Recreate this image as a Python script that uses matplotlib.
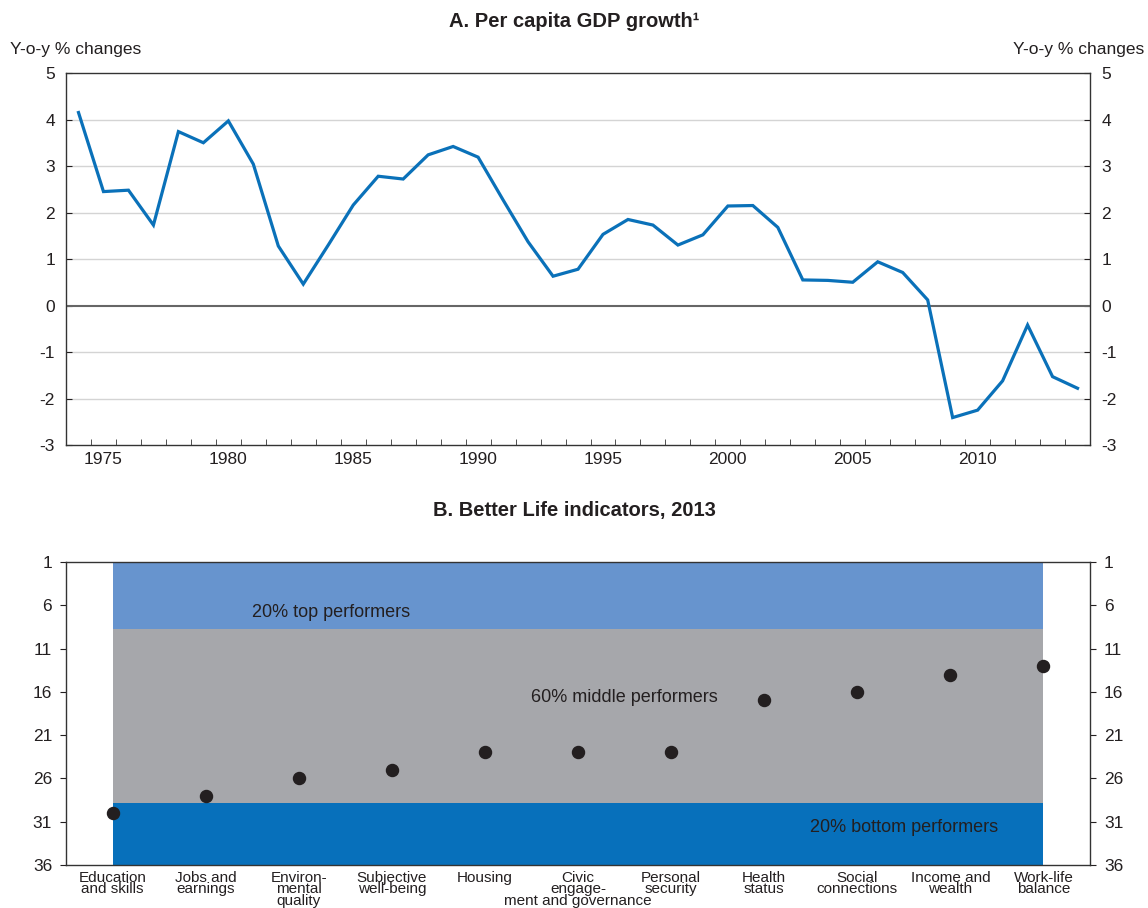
import numpy as np
import matplotlib
matplotlib.use('Agg')
import matplotlib.pyplot as plt
from matplotlib.ticker import FixedLocator

plt.rcParams['font.family'] = ['Liberation Sans', 'DejaVu Sans']
plt.rcParams['axes.unicode_minus'] = False

# Panel A data
years = list(range(1974, 2015))
gdp_growth = [4.15, 2.45, 2.48, 1.73, 3.74, 3.50, 3.97, 3.04, 1.28, 0.46,
              1.30, 2.16, 2.78, 2.72, 3.24, 3.42, 3.19, 2.27, 1.37, 0.63,
              0.78, 1.53, 1.85, 1.73, 1.30, 1.52, 2.14, 2.15, 1.68, 0.55,
              0.54, 0.50, 0.94, 0.71, 0.12, -2.41, -2.25, -1.62, -0.42, -1.53,
              -1.78]

# Panel B data
categories = ['Education\nand skills', 'Jobs and\nearnings', 'Environ-\nmental\nquality',
              'Subjective\nwell-being', 'Housing', 'Civic\nengage-\nment and governance',
              'Personal\nsecurity', 'Health\nstatus', 'Social\nconnections',
              'Income and\nwealth', 'Work-life\nbalance']
ranks = [30, 28, 26, 25, 23, 23, 23, 17, 16, 14, 13]
band_edges = [1, 8.8, 28.8, 36]
band_labels = ['20% top performers', '60% middle performers', '20% bottom performers']

line_blue = '#0a71b9'
band_colors = ['#6794ce', '#a6a7ab', '#0770bb']
txt = '#231f20'

fig = plt.figure(figsize=(11.48, 9.08), dpi=100)

# ---- Panel A ----
ax1 = fig.add_axes([0.0575, 0.5099, 0.892, 0.4097])
ax1.plot(years, gdp_growth, color=line_blue, lw=2.3, solid_joinstyle='miter', zorder=3)
ax1.set_xlim(1973.5, 2014.5)
ax1.set_ylim(-3, 5)
for v in range(-2, 5):
    if v != 0:
        ax1.axhline(v, color='#d4d4d4', lw=1, zorder=1)
ax1.axhline(0, color='#666666', lw=1.5, zorder=2)
ax1.set_yticks(range(-3, 6))
ax1.tick_params(axis='y', which='both', left=True, right=True, labelleft=True,
                labelright=True, direction='in', length=4, labelsize=12.5, colors=txt, pad=8)
ax1.set_xticks(range(1975, 2015, 5))
ax1.xaxis.set_minor_locator(FixedLocator(np.arange(1974.5, 2014.5, 1)))
ax1.tick_params(axis='x', which='major', length=0, labelsize=12.5, colors=txt, pad=5)
ax1.tick_params(axis='x', which='minor', direction='in', length=4, color='#333333')
for s in ax1.spines.values():
    s.set_color('#333333')
    s.set_linewidth(1)
fig.text(0.5, 0.976, 'A. Per capita GDP growth\u00b9', ha='center', va='center',
         fontsize=14.5, fontweight='bold', color=txt)
fig.text(0.009, 0.945, 'Y-o-y % changes', ha='left', va='center', fontsize=12.5, color=txt)
fig.text(0.997, 0.945, 'Y-o-y % changes', ha='right', va='center', fontsize=12.5, color=txt)

# ---- Panel B ----
ax2 = fig.add_axes([0.0575, 0.0474, 0.892, 0.3337])
x = np.arange(len(categories))
for i, c in enumerate(band_colors):
    ax2.fill_between([x[0], x[-1]], band_edges[i], band_edges[i + 1], color=c,
                     lw=0, zorder=1)
ax2.scatter(x, ranks, s=75, color=txt, zorder=3)
ax2.set_xlim(-0.5, len(categories) - 0.5)
ax2.set_ylim(36, 1)
ax2.set_yticks(range(1, 37, 5))
ax2.tick_params(axis='y', which='both', left=True, right=True, labelleft=True,
                labelright=True, length=4, labelsize=12.5, colors=txt, pad=6)
ax2.tick_params(axis='y', which='both', direction='out')

# category labels; the long third line of a label is drawn on its own
tick_labels = []
for i, lab in enumerate(categories):
    lines = lab.split('\n')
    if len(lines) > 2 and len(lines[-1]) > 10:
        tick_labels.append('\n'.join(lines[:-1]))
        ax2.annotate(lines[-1], xy=(i, 0), xycoords=('data', 'axes fraction'),
                     xytext=(0, -20.8), textcoords='offset points', ha='center',
                     va='top', fontsize=11, color=txt)
    else:
        tick_labels.append(lab)
ax2.set_xticks(x)
ax2.set_xticklabels(tick_labels, fontsize=11, linespacing=0.78, color=txt)
ax2.tick_params(axis='x', length=0, pad=4)
for s in ax2.spines.values():
    s.set_color('#333333')
    s.set_linewidth(1)
ax2.text(2.35, 6.8, band_labels[0], ha='center', va='center', fontsize=13, color=txt)
ax2.text(5.5, 16.7, band_labels[1], ha='center', va='center', fontsize=13, color=txt)
ax2.text(8.5, 31.7, band_labels[2], ha='center', va='center', fontsize=13, color=txt)
fig.text(0.5, 0.438, 'B. Better Life indicators, 2013', ha='center', va='center',
         fontsize=14.5, fontweight='bold', color=txt)

fig.savefig('out.png', dpi=100)
